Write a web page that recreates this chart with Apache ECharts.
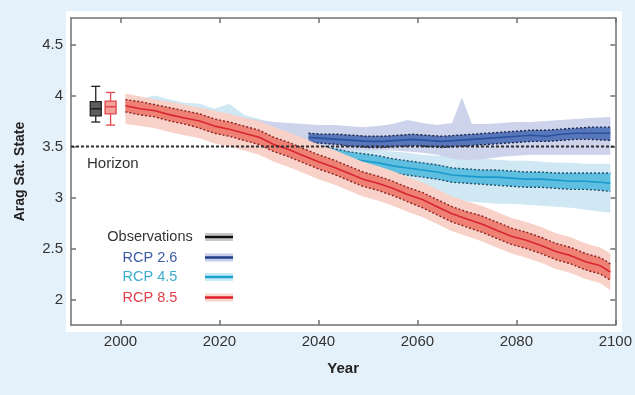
<!DOCTYPE html>
<html>
<head>
<meta charset="utf-8">
<script src="https://cdn.jsdelivr.net/npm/echarts@6.0.0/dist/echarts.min.js"></script>
<style>
    html, body { margin: 0; padding: 0; background: #e5f1fa; }
    #main { width: 635px; height: 395px; }
</style>
</head>
<body>
<div id="main"></div>
<script>
// ---- data ----
var xTicks = [2000, 2020, 2040, 2060, 2080, 2100];
var yTicks = [2, 2.5, 3, 3.5, 4, 4.5];
var horizon = 3.5;

// box plots: [year, min, q1, median, q3, max]
var obsBox = [1995, 3.74, 3.80, 3.87, 3.94, 4.09];
var modelBox = [1998, 3.71, 3.82, 3.89, 3.945, 4.03];

// RCP 8.5
var yrs85 = [2001, 2004, 2007, 2010, 2013, 2016, 2019, 2022, 2025, 2028, 2031, 2034, 2037, 2040, 2043, 2046, 2049,
    2052, 2055, 2058, 2061, 2064, 2067, 2070, 2073, 2076, 2079, 2082, 2085, 2088, 2091, 2094, 2097, 2099];
var med85 = [3.90, 3.87, 3.85, 3.81, 3.78, 3.75, 3.70, 3.67, 3.63, 3.59, 3.52, 3.47, 3.41, 3.35, 3.30, 3.24, 3.18,
    3.14, 3.09, 3.03, 2.98, 2.91, 2.84, 2.79, 2.74, 2.68, 2.62, 2.58, 2.53, 2.47, 2.43, 2.37, 2.33, 2.27];
var inHi85 = [3.96, 3.94, 3.91, 3.88, 3.85, 3.82, 3.77, 3.74, 3.70, 3.66, 3.59, 3.54, 3.48, 3.42, 3.37, 3.31, 3.25,
    3.21, 3.16, 3.10, 3.05, 2.98, 2.91, 2.86, 2.82, 2.76, 2.70, 2.66, 2.61, 2.55, 2.51, 2.45, 2.41, 2.35];
var inLo85 = [3.84, 3.81, 3.79, 3.75, 3.72, 3.68, 3.63, 3.60, 3.56, 3.52, 3.45, 3.40, 3.34, 3.28, 3.23, 3.17, 3.11,
    3.07, 3.02, 2.96, 2.90, 2.83, 2.76, 2.71, 2.66, 2.60, 2.54, 2.50, 2.45, 2.39, 2.35, 2.29, 2.25, 2.19];
var outHi85 = [4.02, 3.99, 3.96, 3.94, 3.91, 3.88, 3.85, 3.82, 3.78, 3.75, 3.69, 3.64, 3.58, 3.52, 3.47, 3.41, 3.35,
    3.31, 3.26, 3.20, 3.15, 3.08, 3.01, 2.96, 2.92, 2.86, 2.80, 2.76, 2.71, 2.65, 2.61, 2.55, 2.51, 2.45];
var outLo85 = [3.72, 3.70, 3.68, 3.64, 3.61, 3.58, 3.53, 3.50, 3.46, 3.42, 3.35, 3.30, 3.24, 3.18, 3.13, 3.07, 3.01,
    2.97, 2.92, 2.86, 2.81, 2.74, 2.67, 2.62, 2.57, 2.51, 2.45, 2.41, 2.36, 2.30, 2.26, 2.20, 2.16, 2.09];

// RCP 4.5
var yrs45Band = yrs85;
var outHi45 = [3.97, 3.97, 4.00, 3.96, 3.93, 3.92, 3.87, 3.92, 3.81, 3.77, 3.72, 3.68, 3.63, 3.58, 3.54, 3.50, 3.48,
    3.46, 3.45, 3.44, 3.42, 3.41, 3.40, 3.39, 3.38, 3.37, 3.36, 3.36, 3.35, 3.34, 3.34, 3.33, 3.33, 3.33];
var outLo45 = [3.80, 3.78, 3.76, 3.73, 3.70, 3.67, 3.63, 3.60, 3.56, 3.52, 3.46, 3.40, 3.34, 3.28, 3.22, 3.18, 3.14,
    3.10, 3.07, 3.05, 3.02, 3.00, 2.98, 2.96, 2.95, 2.94, 2.94, 2.93, 2.92, 2.91, 2.90, 2.88, 2.86, 2.85];
var yrs45 = [2034, 2037, 2040, 2043, 2046, 2049, 2052, 2055, 2058, 2061, 2064, 2067, 2070, 2073, 2076, 2079, 2082,
    2085, 2088, 2091, 2094, 2097, 2099];
var med45 = [3.50, 3.47, 3.44, 3.41, 3.38, 3.36, 3.34, 3.31, 3.29, 3.27, 3.25, 3.22, 3.21, 3.20, 3.20, 3.19, 3.18,
    3.18, 3.17, 3.16, 3.16, 3.15, 3.14];
var inHi45 = [3.57, 3.54, 3.51, 3.48, 3.45, 3.43, 3.41, 3.38, 3.36, 3.34, 3.32, 3.29, 3.28, 3.27, 3.27, 3.26, 3.25,
    3.25, 3.24, 3.24, 3.24, 3.24, 3.24];
var inLo45 = [3.43, 3.40, 3.37, 3.34, 3.31, 3.29, 3.27, 3.24, 3.22, 3.20, 3.18, 3.15, 3.14, 3.13, 3.12, 3.11, 3.10,
    3.10, 3.09, 3.08, 3.08, 3.07, 3.06];

// RCP 2.6
var yrs26Band = [2001, 2004, 2007, 2010, 2013, 2016, 2019, 2022, 2025, 2028, 2031, 2034, 2037, 2040, 2043, 2046, 2049,
    2052, 2055, 2058, 2061, 2064, 2067, 2069, 2071, 2074, 2077, 2080, 2083, 2086, 2089, 2092, 2095, 2099];
var outHi26 = [3.95, 3.93, 3.92, 3.90, 3.88, 3.86, 3.83, 3.82, 3.78, 3.76, 3.74, 3.73, 3.72, 3.71, 3.71, 3.70, 3.69,
    3.70, 3.72, 3.76, 3.73, 3.71, 3.73, 3.98, 3.72, 3.72, 3.73, 3.74, 3.74, 3.75, 3.76, 3.77, 3.78, 3.79];
var outLo26 = [3.80, 3.77, 3.75, 3.72, 3.69, 3.66, 3.62, 3.59, 3.55, 3.52, 3.49, 3.47, 3.47, 3.47, 3.47, 3.46, 3.46,
    3.46, 3.46, 3.45, 3.44, 3.42, 3.38, 3.37, 3.37, 3.38, 3.40, 3.41, 3.42, 3.42, 3.42, 3.42, 3.42, 3.42];
var yrs26 = [2038, 2041, 2044, 2047, 2050, 2053, 2056, 2059, 2062, 2065, 2068, 2071, 2074, 2077, 2080, 2083, 2086,
    2089, 2092, 2095, 2099];
var med26 = [3.59, 3.58, 3.57, 3.56, 3.55, 3.55, 3.56, 3.57, 3.56, 3.55, 3.56, 3.57, 3.58, 3.59, 3.60, 3.61, 3.60,
    3.62, 3.63, 3.63, 3.63];
var inHi26 = [3.63, 3.62, 3.62, 3.61, 3.60, 3.60, 3.61, 3.62, 3.61, 3.60, 3.61, 3.62, 3.63, 3.64, 3.65, 3.66, 3.66,
    3.67, 3.68, 3.69, 3.69];
var inLo26 = [3.54, 3.53, 3.52, 3.50, 3.49, 3.49, 3.50, 3.51, 3.50, 3.49, 3.50, 3.51, 3.52, 3.53, 3.54, 3.55, 3.55,
    3.56, 3.57, 3.57, 3.56];

var legendNames = ['Observations', 'RCP 2.6', 'RCP 4.5', 'RCP 8.5'];
var legendText = ['#333333', '#3b5ba5', '#3badd0', '#e0404c'];
var legendBand = ['#c8c8c8', '#c6cde6', '#c8eaf6', '#f8d5ce'];
var legendLine = ['#111111', '#1f3f8a', '#1aa0cc', '#e0202e'];

var FONT = 'Liberation Sans, Arial, sans-serif';

// ---- helpers ----
function band(yrs, lo, hi, color, z) {
    return {
        type: 'custom', z: z, silent: true, clip: true,
        data: [[yrs[0], hi[0]]],
        renderItem: function (params, api) {
            var pts = [];
            for (var i = 0; i < yrs.length; i++) pts.push(api.coord([yrs[i], hi[i]]));
            for (var j = yrs.length - 1; j >= 0; j--) pts.push(api.coord([yrs[j], lo[j]]));
            return { type: 'polygon', shape: { points: pts }, style: { fill: color } };
        }
    };
}

function line(yrs, vals, color, width, dash, z) {
    var d = [];
    for (var i = 0; i < yrs.length; i++) d.push([yrs[i], vals[i]]);
    return {
        type: 'line', z: z, silent: true, symbol: 'none', data: d,
        lineStyle: { color: color, width: width, type: dash }
    };
}

function boxSeries(item, fill, stroke, z) {
    return {
        type: 'custom', z: z, silent: true, data: [item],
        renderItem: function (params, api) {
            var x = api.value(0);
            var pMin = api.coord([x, api.value(1)]);
            var pQ1 = api.coord([x, api.value(2)]);
            var pMed = api.coord([x, api.value(3)]);
            var pQ3 = api.coord([x, api.value(4)]);
            var pMax = api.coord([x, api.value(5)]);
            var cx = pMed[0], hw = 5.5, cw = 4.5;
            var ls = { stroke: stroke, lineWidth: 1.3 };
            return {
                type: 'group', children: [
                    { type: 'line', shape: { x1: cx, y1: pMax[1], x2: cx, y2: pQ3[1] }, style: ls },
                    { type: 'line', shape: { x1: cx, y1: pQ1[1], x2: cx, y2: pMin[1] }, style: ls },
                    { type: 'line', shape: { x1: cx - cw, y1: pMax[1], x2: cx + cw, y2: pMax[1] }, style: ls },
                    { type: 'line', shape: { x1: cx - cw, y1: pMin[1], x2: cx + cw, y2: pMin[1] }, style: ls },
                    { type: 'rect', shape: { x: cx - hw, y: pQ3[1], width: hw * 2, height: pQ1[1] - pQ3[1] },
                        style: { fill: fill, stroke: stroke, lineWidth: 1.3 } },
                    { type: 'line', shape: { x1: cx - hw, y1: pMed[1], x2: cx + hw, y2: pMed[1] },
                        style: { stroke: stroke, lineWidth: 1.6 } }
                ]
            };
        }
    };
}

// ---- series ----
var series = [];
series.push(band(yrs45Band, outLo45, outHi45, '#cfe8f4', 1));
series.push(band(yrs26Band, outLo26, outHi26, '#ccd3ea', 2));
series.push(band(yrs45, inLo45, inHi45, '#5ebfe0', 3));
series.push(line(yrs45, med45, '#1a9acb', 1.6, 'solid', 4));
series.push(line(yrs45, inHi45, '#24506a', 1.4, [2, 2], 4));
series.push(line(yrs45, inLo45, '#24506a', 1.4, [2, 2], 4));
series.push(band(yrs26, inLo26, inHi26, '#5877bb', 5));
series.push(line(yrs26, med26, '#2a52a0', 1.6, 'solid', 6));
series.push(line(yrs26, inHi26, '#1a2548', 1.4, [2, 2], 6));
series.push(line(yrs26, inLo26, '#1a2548', 1.4, [2, 2], 6));
series.push(band(yrs85, outLo85, outHi85, '#f8d2c9', 7));
series.push(band(yrs85, inLo85, inHi85, '#ee8173', 8));
series.push(line(yrs85, med85, '#d8262e', 1.6, 'solid', 9));
series.push(line(yrs85, inHi85, '#8a2424', 1.4, [2, 2], 9));
series.push(line(yrs85, inLo85, '#8a2424', 1.4, [2, 2], 9));
series.push(line([1990, 2100], [horizon, horizon], '#2e2e2e', 1.8, [3, 2], 10));
series.push(boxSeries(obsBox, '#5e5e5e', '#222222', 11));
series.push(boxSeries(modelBox, '#f5a298', '#e2464e', 11));

// ---- legend + labels drawn as graphic ----
var graphics = [
    { type: 'rect', z: -10, shape: { x: 66, y: 11, width: 556, height: 321 }, style: { fill: '#ffffff' } },
    { type: 'text', z: 50, x: 87, y: 164,
        style: { text: 'Horizon', fill: '#333333', font: '15px ' + FONT, verticalAlign: 'middle' } }
];
var legendY = [237, 257.5, 277, 297.5];
for (var i = 0; i < legendNames.length; i++) {
    graphics.push({ type: 'text', z: 50, x: 150, y: legendY[i],
        style: { text: legendNames[i], fill: legendText[i], font: '14.5px ' + FONT, align: 'center', verticalAlign: 'middle' } });
    graphics.push({ type: 'rect', z: 50, shape: { x: 205, y: legendY[i] - 4, width: 28, height: 8 },
        style: { fill: legendBand[i] } });
    graphics.push({ type: 'line', z: 51, shape: { x1: 205, y1: legendY[i], x2: 233, y2: legendY[i] },
        style: { stroke: legendLine[i], lineWidth: 2.5 } });
}

var axisLineStyle = { color: '#707070', width: 1.5 };

var option = {
    animation: false,
    backgroundColor: '#e5f1fa',
    grid: { left: 71, right: 19, top: 18, bottom: 70 },
    xAxis: [
        {
            type: 'value', min: 1990, max: 2100, position: 'bottom',
            name: 'Year', nameLocation: 'middle', nameGap: 36,
            nameTextStyle: { fontFamily: FONT, fontSize: 15, fontWeight: 'bold', color: '#222' },
            axisLine: { show: true, onZero: false, lineStyle: axisLineStyle },
            axisTick: { show: true, inside: true, length: 5, customValues: xTicks, lineStyle: axisLineStyle },
            axisLabel: {
                customValues: xTicks, margin: 9, fontFamily: FONT, fontSize: 15, color: '#333',
                formatter: function (v) { return String(v); }
            },
            splitLine: { show: false }
        },
        {
            type: 'value', min: 1990, max: 2100, position: 'top',
            axisLine: { show: true, onZero: false, lineStyle: axisLineStyle },
            axisTick: { show: true, inside: true, length: 5, customValues: xTicks, lineStyle: axisLineStyle },
            axisLabel: { show: false },
            splitLine: { show: false }
        }
    ],
    yAxis: [
        {
            type: 'value', min: 1.75, max: 4.76, position: 'left',
            name: 'Arag Sat. State', nameLocation: 'middle', nameGap: 44, nameRotate: 90,
            nameTextStyle: { fontFamily: FONT, fontSize: 14, fontWeight: 'bold', color: '#222' },
            axisLine: { show: true, onZero: false, lineStyle: axisLineStyle },
            axisTick: { show: true, inside: true, length: 5, customValues: yTicks, lineStyle: axisLineStyle },
            axisLabel: { customValues: yTicks, margin: 8, fontFamily: FONT, fontSize: 15, color: '#333' },
            splitLine: { show: false }
        },
        {
            type: 'value', min: 1.75, max: 4.76, position: 'right',
            axisLine: { show: true, onZero: false, lineStyle: axisLineStyle },
            axisTick: { show: true, inside: true, length: 5, customValues: yTicks, lineStyle: axisLineStyle },
            axisLabel: { show: false },
            splitLine: { show: false }
        }
    ],
    graphic: graphics,
    series: series
};

var myChart = echarts.init(document.getElementById('main'));
myChart.setOption(option);
</script>
</body>
</html>
